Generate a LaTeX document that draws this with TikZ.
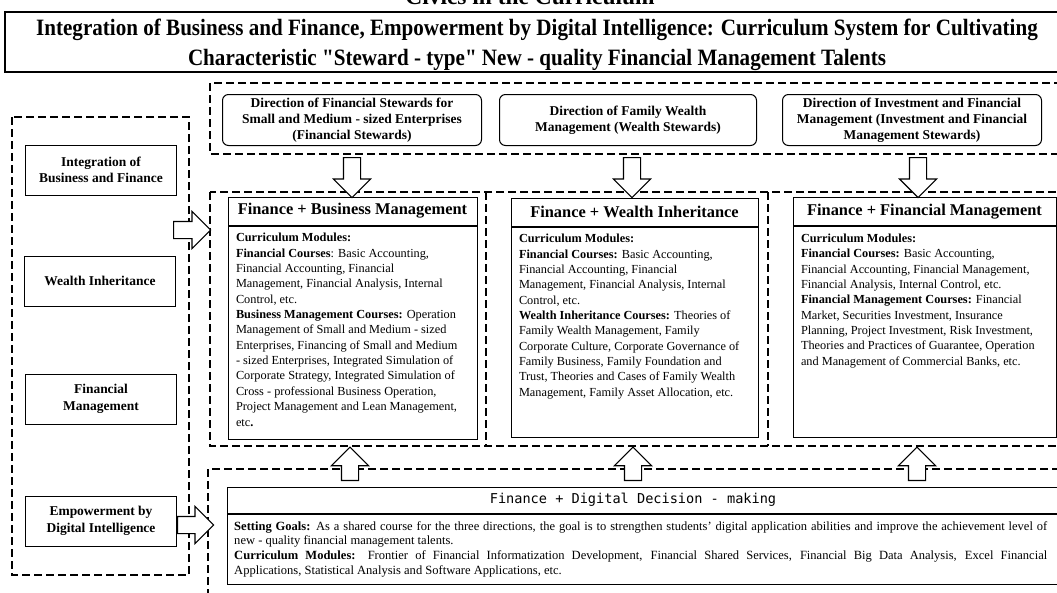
\documentclass[tikz,border=0pt]{standalone}
\usepackage{fontspec}
\setmainfont{Liberation Serif}
\newfontfamily\titlefont[FakeStretch=0.9]{Liberation Serif}
\newfontfamily\deckfont{DejaVu Sans Mono}
\usetikzlibrary{shapes.arrows,positioning}

\tikzstyle{dashbox}=[draw, line width=0.4mm, dash pattern=on 2.4mm off 1.2mm]
\tikzstyle{sidebox}=[draw, line width=0.3mm, minimum width=45.3mm, minimum height=15mm, align=center, font=\fontsize{11.5}{14}\selectfont\bfseries]
\tikzstyle{dirbox}=[draw, line width=0.3mm, rounded corners=1.8mm, minimum height=15.3mm, align=center, inner sep=0pt, font=\fontsize{11.5}{13.5}\selectfont\bfseries]
\tikzstyle{headbox}=[draw, line width=0.3mm, minimum height=8.4mm, inner sep=0pt, font=\fontsize{14}{16}\selectfont\bfseries]
\tikzstyle{bodybox}=[draw, line width=0.3mm, inner xsep=2.4mm, inner ysep=2.2mm, font=\fontsize{10.5}{13.1}\selectfont]
\tikzstyle{hollow}=[single arrow, draw, line width=0.35mm, fill=white, inner sep=2.4mm, single arrow head extend=3mm, minimum height=12mm, anchor=tail]

\begin{document}
\begin{tikzpicture}[x=0.3mm, y=-0.3mm]
\useasboundingbox (0,0) rectangle (1057,592);
% Title
    \node[anchor=base, font=\fontsize{20}{24}\selectfont\bfseries] (civics) at (530,4) {Civics in the Curriculum};
    \draw[line width=0.5mm] (5,12) rectangle (1075,72);
    \node[align=center, font=\titlefont\fontsize{20}{26}\selectfont\bfseries] (title) at (537,45)
        {Integration of Business and Finance, Empowerment by Digital Intelligence: Curriculum System for Cultivating\\
         Characteristic "Steward - type" New - quality Financial Management Talents};
% Dashed frames
    \draw[dashbox] (12,117) rectangle (189,575);
    \draw[dashbox] (210,83) rectangle (1075,154);
    \draw[dashbox] (210,192) rectangle (1075,446);
    \draw[dashbox] (486,192) -- (486,446);
    \draw[dashbox] (768,192) -- (768,446);
    \draw[dashbox] (208,469) rectangle (1075,610);
% Left column
    \node[sidebox] (integ) at (101,170) {Integration of\\Business and Finance};
    \node[sidebox] (wealth) at (100,281) {Wealth Inheritance};
    \node[sidebox] (finman) at (101,399) {Financial\\Management};
    \node[sidebox] (digit) at (101,521) {Empowerment by\\Digital Intelligence};
% Directions
    \node[dirbox, minimum width=77.7mm] (dir1) at (352,120) {Direction of Financial Stewards for\\Small and Medium - sized Enterprises\\(Financial Stewards)};
    \node[dirbox, minimum width=77.1mm] (dir2) at (628,120) {Direction of Family Wealth\\Management (Wealth Stewards)};
    \node[dirbox, minimum width=77.7mm] (dir3) at (912,120) {Direction of Investment and Financial\\Management (Investment and Financial\\Management Stewards)};
% Course blocks
    \node[headbox, minimum width=74.7mm] (hd1) at (352.5,211) {Finance + Business Management};
    \node[bodybox, below=0pt of hd1] (bd1) {\parbox[t][59.5mm][t]{69.9mm}{\raggedright
        \textbf{Curriculum Modules:}\\
        \textbf{Financial Courses}: Basic Accounting,\\
        Financial Accounting, Financial\\
        Management, Financial Analysis, Internal\\
        Control, etc.\\
        \textbf{Business Management Courses:} Operation\\
        Management of Small and Medium - sized\\
        Enterprises, Financing of Small and Medium\\
        - sized Enterprises, Integrated Simulation of\\
        Corporate Strategy, Integrated Simulation of\\
        Cross - professional Business Operation,\\
        Project Management and Lean Management,\\
        etc\textbf{.}}};
    \node[headbox, minimum width=74.1mm] (hd2) at (634.5,212) {Finance + Wealth Inheritance};
    \node[bodybox, below=0pt of hd2] (bd2) {\parbox[t][58.8mm][t]{69.3mm}{\raggedright
        \textbf{Curriculum Modules:}\\
        \textbf{Financial Courses:} Basic Accounting,\\
        Financial Accounting, Financial\\
        Management, Financial Analysis, Internal\\
        Control, etc.\\
        \textbf{Wealth Inheritance Courses:} Theories of\\
        Family Wealth Management, Family\\
        Corporate Culture, Corporate Governance of\\
        Family Business, Family Foundation and\\
        Trust, Theories and Cases of Family Wealth\\
        Management, Family Asset Allocation, etc.}};
    \node[headbox, minimum width=78.9mm] (hd3) at (924.5,211.5) {Finance + Financial Management};
    \node[bodybox, below=0pt of hd3] (bd3) {\parbox[t][58.8mm][t]{74.1mm}{\raggedright
        \textbf{Curriculum Modules:}\\
        \textbf{Financial Courses:} Basic Accounting,\\
        Financial Accounting, Financial Management,\\
        Financial Analysis, Internal Control, etc.\\
        \textbf{Financial Management Courses:} Financial\\
        Market, Securities Investment, Insurance\\
        Planning, Project Investment, Risk Investment,\\
        Theories and Practices of Guarantee, Operation\\
        and Management of Commercial Banks, etc.}};
% Shared digital course
    \node[draw, line width=0.3mm, anchor=north west, minimum width=253mm, minimum height=7.8mm] (hd4) at (227,487) {};
    \node[font=\deckfont\fontsize{11.6}{13}\selectfont] (hd4txt) at (633,500) {Finance + Digital Decision - making};
    \node[draw, line width=0.3mm, anchor=north west, minimum width=253mm, minimum height=21mm] (bd4) at (hd4.south west) {};
    \node[anchor=north west, inner sep=0pt, font=\fontsize{10.7}{12.6}\selectfont] (bd4txt) at (234,521) {\parbox{243.9mm}{%
        \textbf{Setting Goals:} As a shared course for the three directions, the goal is to strengthen students' digital application abilities and improve the achievement level of\linebreak
        new - quality financial management talents.\\
        \textbf{Curriculum Modules:} Frontier of Financial Informatization Development, Financial Shared Services, Financial Big Data Analysis, Excel Financial\linebreak
        Applications, Statistical Analysis and Software Applications, etc.}};
% Hollow arrows
    \node[hollow, rotate=-90] (down1) at (352,157) {};
    \node[hollow, rotate=-90] (down2) at (632,157) {};
    \node[hollow, rotate=-90] (down3) at (918,157) {};
    \node[hollow, rotate=90, minimum height=10mm] (up1) at (350,481) {};
    \node[hollow, rotate=90, minimum height=10mm] (up2) at (633,481) {};
    \node[hollow, rotate=90, minimum height=10mm] (up3) at (917,481) {};
    \node[hollow, minimum height=11.1mm] (right1) at (173,230) {};
    \node[hollow, minimum height=10.8mm] (right2) at (177,525) {};
\end{tikzpicture}
\end{document}
